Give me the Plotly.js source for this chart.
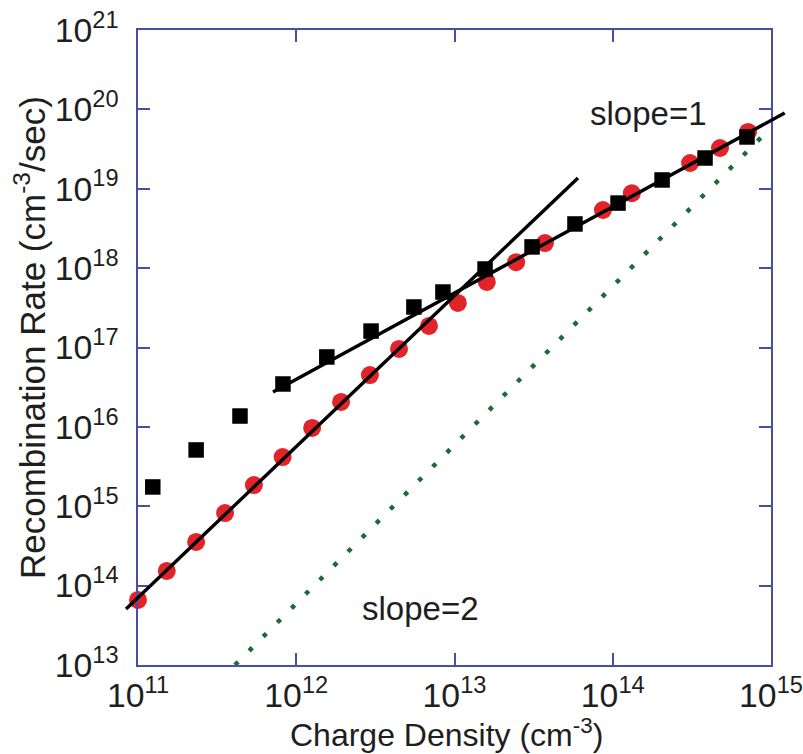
<!DOCTYPE html>
<html>
<head>
<meta charset="utf-8">
<script src="https://cdn.plot.ly/plotly-3.0.1.min.js"></script>
<style>html,body{margin:0;padding:0;background:#fff;}#chart{width:803px;height:754px;}</style>
</head>
<body>
<div id="chart"></div>
<script>
// Red circles (Charge Density, Recombination Rate)
var redX = [1.0e11, 1.52e11, 2.33e11, 3.55e11, 5.4e11, 8.2e11, 1.26e12, 1.92e12, 2.92e12, 4.46e12, 6.9e12, 1.05e13, 1.6e13, 2.45e13, 3.73e13, 8.67e13, 1.32e14, 3.08e14, 4.76e14, 7.16e14];
var redY = [6.6e13, 1.53e14, 3.55e14, 8.2e14, 1.85e15, 4.17e15, 9.7e15, 2.06e16, 4.5e16, 9.6e16, 1.87e17, 3.64e17, 6.7e17, 1.19e18, 2.07e18, 5.4e18, 8.8e18, 2.11e19, 3.26e19, 5.2e19];
// Black squares
var sqX = [1.24e11, 2.33e11, 4.41e11, 8.24e11, 1.56e12, 2.97e12, 5.54e12, 8.45e12, 1.56e13, 3.09e13, 5.77e13, 1.08e14, 2.05e14, 3.83e14, 7.05e14];
var sqY = [1.75e15, 5.12e15, 1.37e16, 3.47e16, 7.6e16, 1.61e17, 3.24e17, 5.0e17, 9.75e17, 1.85e18, 3.6e18, 6.6e18, 1.29e19, 2.44e19, 4.49e19];
// Fit lines
var fit1X = [8.4e10, 6.03e13];
var fit1Y = [5.08e13, 1.37e19];
var fit2X = [7.13e11, 1.22e15];
var fit2Y = [2.75e16, 9.0e19];
// slope = 2 reference (dotted)
var slope2X = [4.1e11, 1e15];
var slope2Y = [1e13, 5.9e19];
// Labels
var xTitle = 'Charge Density (cm<sup>-3</sup>)';
var yTitle = 'Recombination Rate (cm<sup>-3</sup>/sec)';
var note1 = 'slope=1';
var note2 = 'slope=2';

var W = 803, H = 754;
var mL = 118, mR = 12, mT = 30, mB = 89, ext = 20;
var plotW = W - mL - mR;
var plotH = H - mT - mB;
var d0 = ext / plotW, d1 = 1 - ext / plotW;
var xr = [11, 15], yr = [13, 21];
var pxPerDec = (plotW - 2 * ext) / (xr[1] - xr[0]);
var x2r = [xr[0] - ext / pxPerDec, xr[1] + ext / pxPerDec];

var font = 'Liberation Sans, Arial, Helvetica, sans-serif';
var axCol = '#4a4fa6';
var txtCol = '#1e1e1e';

var traces = [
  {x: slope2X, y: slope2Y, xaxis: 'x', yaxis: 'y', mode: 'lines',
   line: {color: '#1d6b32', width: 4.5, dash: '4.5px,15.5px'}, hoverinfo: 'skip'},
  {x: redX, y: redY, xaxis: 'x', yaxis: 'y', mode: 'markers', cliponaxis: false,
   marker: {symbol: 'circle', size: 18, color: '#e3232a'}},
  {x: sqX, y: sqY, xaxis: 'x', yaxis: 'y', mode: 'markers', cliponaxis: false,
   marker: {symbol: 'square', size: 15.5, color: '#000000'}},
  {x: fit1X, y: fit1Y, xaxis: 'x2', yaxis: 'y2', mode: 'lines',
   line: {color: '#000000', width: 3.4}},
  {x: fit2X, y: fit2Y, xaxis: 'x2', yaxis: 'y2', mode: 'lines',
   line: {color: '#000000', width: 3.4}}
];

// paper coordinates for the axis titles
var yTitleX = (30 - mL) / plotW;
var yTitleY = 1 - (338 - mT) / plotH;
var xTitleX = (446 - mL) / plotW;
var xTitleY = 1 - (733 - mT) / plotH;

var layout = {
  width: W, height: H,
  margin: {l: mL, r: mR, t: mT, b: mB},
  paper_bgcolor: '#ffffff', plot_bgcolor: 'rgba(0,0,0,0)',
  showlegend: false,
  font: {family: font, color: txtCol},
  xaxis: {
    type: 'log', range: xr, domain: [d0, d1], anchor: 'y',
    showline: true, linecolor: axCol, linewidth: 2, mirror: 'ticks',
    ticks: 'inside', ticklen: 12, tickwidth: 2, tickcolor: axCol,
    dtick: 1, exponentformat: 'power', showgrid: false, zeroline: false,
    tickfont: {size: 27, family: font, color: txtCol}, ticklabelstandoff: 1
  },
  yaxis: {
    type: 'log', range: yr, domain: [0, 1], anchor: 'x',
    showline: true, linecolor: axCol, linewidth: 2, mirror: 'ticks',
    ticks: 'inside', ticklen: 12, tickwidth: 2, tickcolor: axCol,
    dtick: 1, exponentformat: 'power', showgrid: false, zeroline: false,
    tickfont: {size: 27, family: font, color: txtCol}, ticklabelstandoff: 12
  },
  xaxis2: {type: 'log', range: x2r, domain: [0, 1], anchor: 'y2', visible: false, showgrid: false, zeroline: false},
  yaxis2: {type: 'log', range: yr, domain: [0, 1], anchor: 'x2', visible: false, showgrid: false, zeroline: false},
  annotations: [
    {text: note1, xref: 'x', yref: 'y', x: 14.229, y: 19.954, showarrow: false,
     font: {size: 33, family: font, color: txtCol}, xanchor: 'center', yanchor: 'middle'},
    {text: note2, xref: 'x', yref: 'y', x: 12.782, y: 13.718, showarrow: false,
     font: {size: 33, family: font, color: txtCol}, xanchor: 'center', yanchor: 'middle'},
    {text: yTitle, xref: 'paper', yref: 'paper', x: yTitleX, y: yTitleY, textangle: -90,
     showarrow: false, xanchor: 'center', yanchor: 'middle',
     font: {size: 35, family: font, color: txtCol}},
    {text: xTitle, xref: 'paper', yref: 'paper', x: xTitleX, y: xTitleY,
     showarrow: false, xanchor: 'center', yanchor: 'middle', borderpad: 0,
     font: {size: 32, family: font, color: txtCol}}
  ]
};

Plotly.newPlot('chart', traces, layout, {displayModeBar: false, staticPlot: true});
</script>
</body>
</html>
